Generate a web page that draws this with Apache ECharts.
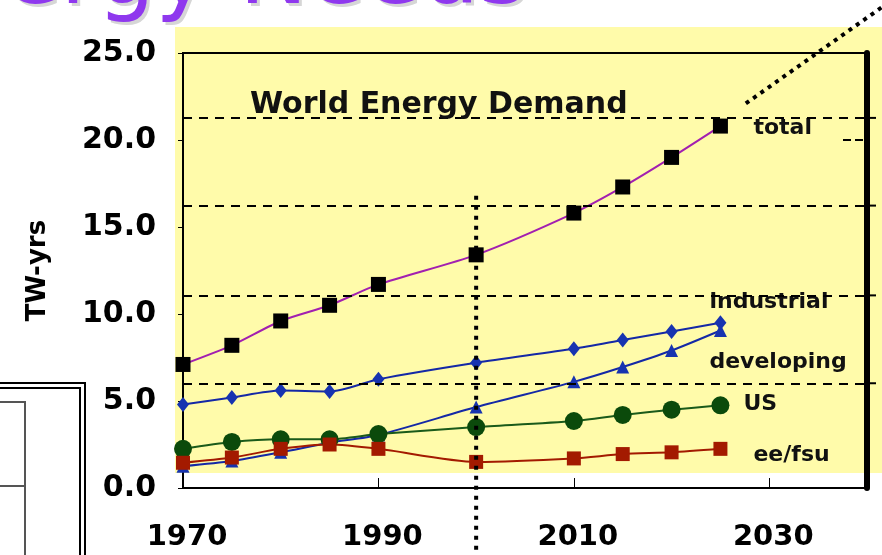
<!DOCTYPE html>
<html>
<head>
<meta charset="utf-8">
<script src="https://cdn.jsdelivr.net/npm/echarts@6/dist/echarts.min.js"></script>
<style>
html,body{margin:0;padding:0;background:#fff;}
#c{width:882px;height:555px;}
</style>
</head>
<body>
<div id="c"></div>
<script>
// ---- data ----
var years = [1970, 1975, 1980, 1985, 1990, 2000, 2010, 2015, 2020, 2025];
var total = [7.1, 8.2, 9.6, 10.5, 11.7, 13.4, 15.8, 17.3, 19.0, 20.8];
var industrial = [4.8, 5.2, 5.6, 5.55, 6.25, 7.2, 8.0, 8.5, 9.0, 9.5];
var developing = [1.25, 1.55, 2.05, 2.6, 3.05, 4.65, 6.1, 6.95, 7.9, 9.05];
var us = [2.25, 2.65, 2.8, 2.8, 3.1, 3.5, 3.85, 4.2, 4.5, 4.75];
var eefsu = [1.45, 1.75, 2.25, 2.5, 2.25, 1.5, 1.7, 1.95, 2.05, 2.25];
var seriesNames = ['total', 'industrial', 'developing', 'US', 'ee/fsu'];
var xTicks = [1970, 1990, 2010, 2030];
var yTicks = [0, 5, 10, 15, 20, 25];
var dashedLevels = [6.02, 11.07, 16.23, 21.27];
var dividerYear = 2000;
var dividerTop = 16.8;
var chartTitle = 'World Energy Demand';
var yName = 'TW-yrs';
var slideTitle = 'ergy Needs';

function pairs(v) { return years.map(function (y, i) { return [y, v[i]]; }); }

var FONT = '"DejaVu Sans", sans-serif';
var chart = echarts.init(document.getElementById('c'), null, {renderer: 'canvas'});

function mkSeries(name, data, color, lineColor, symbol, size, lblOffset) {
  return {
    name: name, type: 'line', data: pairs(data), smooth: 0.25,
    symbol: symbol, symbolSize: size,
    itemStyle: {color: color, borderWidth: 0},
    lineStyle: {color: lineColor, width: 2},
    z: 3,
    endLabel: {
      show: true, formatter: name, distance: 0, offset: lblOffset,
      color: '#111', fontFamily: FONT, fontWeight: 'bold', fontSize: 22,
      align: 'left', verticalAlign: 'middle'
    },
    emphasis: {disabled: true},
    animation: false
  };
}

var option = {
  animation: false,
  backgroundColor: '#ffffff',
  grid: {left: 183, top: 53, right: 15, bottom: 67, show: true, borderColor: '#000', borderWidth: 2, backgroundColor: 'transparent'},
  xAxis: {
    type: 'value', min: 1970, max: 2040, interval: 20,
    axisLine: {lineStyle: {color: '#000', width: 2}},
    axisTick: {inside: true, length: 10, lineStyle: {color: '#000', width: 1}},
    splitLine: {show: false},
    axisLabel: {
      margin: 35, color: '#000', fontFamily: FONT, fontWeight: 'bold', fontSize: 29,
      showMaxLabel: false, verticalAlign: 'top', padding: [0, 0, 0, 8],
      formatter: function (v) { return xTicks.indexOf(v) >= 0 ? String(v) : ''; }
    }
  },
  yAxis: [{
    type: 'value', min: 0, max: 25, interval: 5,
    name: yName, nameLocation: 'middle', nameGap: 132, nameRotate: 90,
    nameTextStyle: {color: '#000', fontFamily: FONT, fontWeight: 'bold', fontSize: 26},
    axisLine: {show: true, lineStyle: {color: '#000', width: 2}},
    axisTick: {show: true, length: 5, lineStyle: {color: '#000', width: 1}},
    splitLine: {show: false},
    axisLabel: {
      margin: 27, color: '#000', fontFamily: FONT, fontWeight: 'bold', fontSize: 30,
      formatter: function (v) { return yTicks.indexOf(v) >= 0 ? v.toFixed(1) : ''; }
    }
  }, {
    type: 'value', min: 0, max: 25, position: 'right',
    axisLine: {show: true, lineStyle: {color: '#000', width: 6}},
    axisTick: {show: false}, axisLabel: {show: false}, splitLine: {show: false}
  }],
  graphic: [],
  series: [
    {
      name: 'grid-levels', type: 'line', data: [], silent: true,
      markLine: {
        silent: true, symbol: 'none', animation: false,
        label: {show: false},
        lineStyle: {color: '#000', width: 2, type: [9, 7]},
        data: dashedLevels.map(function (v) { return {yAxis: v}; })
      }
    },
    mkSeries('total', total, '#000000', '#a21fb0', 'rect', 15, [33, 2]),
    mkSeries('industrial', industrial, '#1733b0', '#1428a6', 'diamond', [12, 15], [-11, -20]),
    mkSeries('developing', developing, '#1733b0', '#1428a6', 'triangle', 13, [-11, 32]),
    mkSeries('US', us, '#0b4a0b', '#1a5a1a', 'circle', 18, [23, -1]),
    mkSeries('ee/fsu', eefsu, '#a31a00', '#a31a00', 'rect', 14, [33, 6])
  ]
};
chart.setOption(option);

// decorations positioned through the chart's own scales
var base = chart.convertToPixel({gridIndex: 0}, [1970, 0]);
var end = chart.convertToPixel({gridIndex: 0}, [2040, 25]);
var divTop = chart.convertToPixel({gridIndex: 0}, [dividerYear, dividerTop]);
var diagA = chart.convertToPixel({gridIndex: 0}, [2027.6, 22.1]);
var diagB = chart.convertToPixel({gridIndex: 0}, [2042.2, 27.9]);

var gfx = [
  // yellow slide panel
  {type: 'rect', z: -10, silent: true, shape: {x: base[0] - 8, y: end[1] - 26, width: 882 - base[0] + 8, height: base[1] - 15 - end[1] + 26}, style: {fill: '#fffbaa'}},
  // slide title remnant
  {type: 'text', z: -5, silent: true, left: 7, top: -64, style: {text: slideTitle, fontFamily: FONT, fontSize: 92, fill: '#d6d6d6'}},
  {type: 'text', z: -4, silent: true, left: 4, top: -67, style: {text: slideTitle, fontFamily: FONT, fontSize: 92, fill: '#8f38ee'}},
  // chart title
  {type: 'text', z: 10, silent: true, left: 250, top: 90, style: {text: chartTitle, fontFamily: FONT, fontWeight: 'bold', fontSize: 30, fill: '#111'}},
  // vertical dotted divider at 2000
  {type: 'line', z: 8, silent: true, shape: {x1: divTop[0], y1: divTop[1], x2: divTop[0], y2: 555}, style: {stroke: '#000', lineWidth: 4, lineDash: [4, 6]}},
  // diagonal dotted pointer
  {type: 'line', z: 8, silent: true, shape: {x1: diagA[0], y1: diagA[1], x2: diagB[0], y2: diagB[1]}, style: {stroke: '#000', lineWidth: 4, lineDash: [4, 5]}},
  // left-bottom box fragment
  {type: 'polyline', silent: true, shape: {points: [[0, 383], [85, 383], [85, 555]]}, style: {stroke: '#000', lineWidth: 2, fill: null}},
  {type: 'polyline', silent: true, shape: {points: [[0, 388], [80, 388], [80, 555]]}, style: {stroke: '#000', lineWidth: 2, fill: null}},
  {type: 'polyline', silent: true, shape: {points: [[0, 402], [25, 402], [25, 555]]}, style: {stroke: '#555', lineWidth: 2, fill: null}},
  {type: 'line', silent: true, shape: {x1: 0, y1: 486, x2: 25, y2: 486}, style: {stroke: '#555', lineWidth: 2}}
];
// dashed levels continue a little past the right frame
dashedLevels.forEach(function (v) {
  var p = chart.convertToPixel({gridIndex: 0}, [2040, v]);
  gfx.push({type: 'line', z: 2, silent: true, shape: {x1: p[0], y1: p[1], x2: 882, y2: p[1]}, style: {stroke: '#000', lineWidth: 2, lineDash: [9, 7]}});
});
// short dash at 20.0 near right frame
var r20 = chart.convertToPixel({gridIndex: 0}, [2040, 20]);
gfx.push({type: 'line', z: 2, silent: true, shape: {x1: r20[0] - 24, y1: r20[1], x2: r20[0] - 4, y2: r20[1]}, style: {stroke: '#000', lineWidth: 2, lineDash: [8, 4]}});

chart.setOption({graphic: gfx});
</script>
</body>
</html>
